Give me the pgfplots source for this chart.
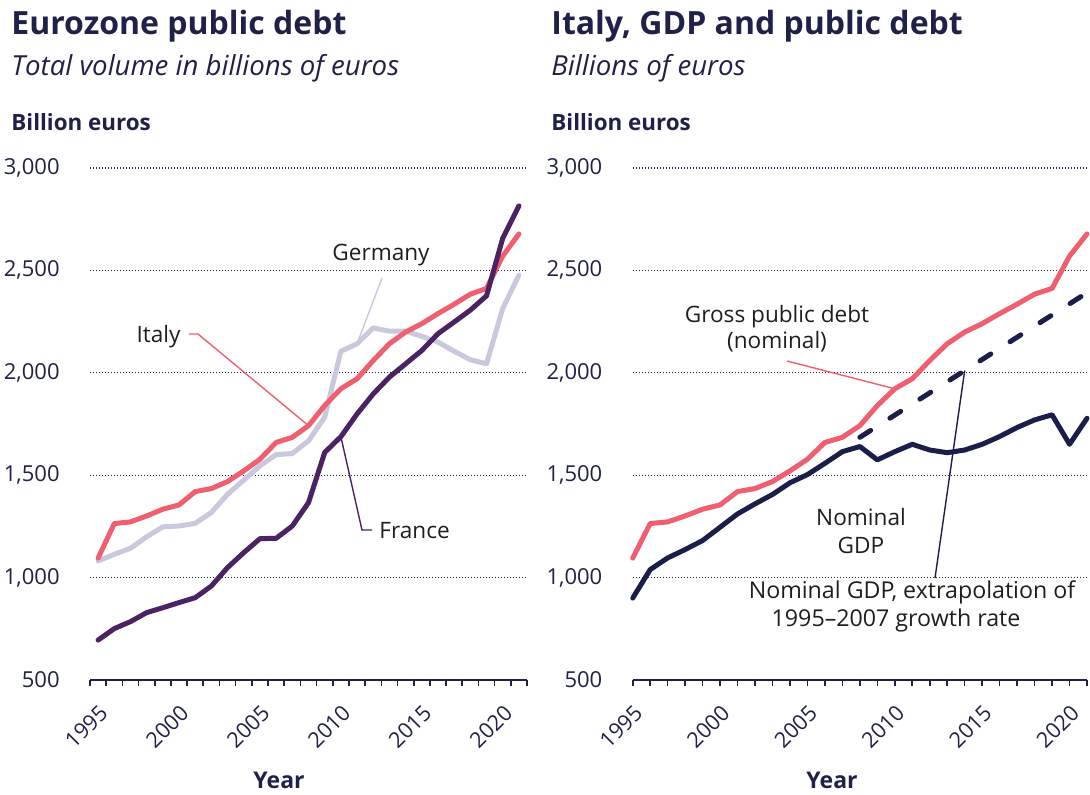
\documentclass[border=0pt]{standalone}
\usepackage{pgfplots}
\usepackage{pgfplotstable}
\pgfplotsset{compat=1.18}
\usepackage{fontspec}
\setmainfont{Open Sans}
\definecolor{navy}{HTML}{1F2148}
\definecolor{italy}{HTML}{EF5F6F}
\definecolor{germany}{HTML}{C9C8DC}
\definecolor{france}{HTML}{4B2363}
\definecolor{gdp}{HTML}{1C1E4A}
\definecolor{anno}{HTML}{1E1E1E}

\pgfplotstableread{
year italy germany france gdp
1995 1095 1081 695 900
1996 1264 1114 751 1039
1997 1272 1143 785 1096
1998 1301 1199 829 1137
1999 1334 1248 853 1181
2000 1355 1252 878 1246
2001 1420 1265 902 1311
2002 1435 1318 959 1360
2003 1469 1407 1049 1406
2004 1521 1476 1122 1463
2005 1578 1546 1190 1503
2006 1660 1600 1192 1558
2007 1685 1606 1252 1615
2008 1742 1668 1366 1640
2009 1840 1783 1611 1575
2010 1922 2105 1688 1615
2011 1971 2142 1799 1651
2012 2060 2219 1897 1623
2013 2142 2203 1979 1610
2014 2199 2203 2044 1623
2015 2240 2178 2109 1651
2016 2289 2150 2191 1689
2017 2335 2105 2248 1733
2018 2384 2064 2306 1770
2019 2412 2044 2376 1795
2020 2570 2314 2657 1651
2021 2678 2477 2815 1778
}\datatable

\pgfplotsset{
  common/.style={
    scale only axis,
    height=256pt,
    ymin=500, ymax=3000,
    ytick={500,1000,...,3000},
    yticklabels={500,{1,000},{1,500},{2,000},{2,500},{3,000}},
    axis x line*=bottom,
    axis y line*=left,
    y axis line style={draw=none},
    x axis line style={navy, line width=1pt},
    ymajorgrids,
    major grid style={navy, line width=0.6pt, dash pattern=on 0.6pt off 0.9pt},
    tick align=outside,
    major tick length=3pt,
    tick style={navy, line width=0.8pt},
    ytick style={draw=none},
    ticklabel style={font=\fontsize{11}{13}\selectfont, text=navy},
    xticklabel style={font=\fontsize{10.8}{13}\selectfont, yshift=-8.5pt, rotate=45, anchor=north east, inner sep=0pt},
    yticklabel style={anchor=east, inner sep=0pt, xshift=-12pt},
    clip=false,
    every axis plot/.append style={line width=2.5pt, line join=round, line cap=round, mark=none},
  }
}

\begin{document}
\begin{tikzpicture}
\path[use as bounding box] (0,0) rectangle (545pt,397pt);

% ---------- left panel ----------
\begin{axis}[common,
  at={(45pt,57pt)}, anchor=south west, width=218.5pt,
  xmin=1994.5, xmax=2021.5,
  xtick={1994.5,1995.5,1996.5,1997.5,1998.5,1999.5,2000.5,2001.5,2002.5,2003.5,2004.5,2005.5,2006.5,2007.5,2008.5,2009.5,2010.5,2011.5,2012.5,2013.5,2014.5,2015.5,2016.5,2017.5,2018.5,2019.5,2020.5,2021.5},
  xticklabels={},
  extra x ticks={1995,2000,2005,2010,2015,2020},
  extra x tick labels={1995,2000,2005,2010,2015,2020},
  extra x tick style={tick style={draw=none}},
]
\addplot[germany] table[x=year, y=germany] {\datatable};
\addplot[italy] table[x=year, y=italy] {\datatable};
\addplot[france] table[x=year, y=france] {\datatable};
\coordinate (itp) at (axis cs:2008,1742);
\coordinate (dep) at (axis cs:2011,2142);
\coordinate (frp) at (axis cs:2010,1688);
\end{axis}

% ---------- right panel ----------
\begin{axis}[common,
  at={(316.35pt,57pt)}, anchor=south west, width=227.15pt,
  xmin=1995, xmax=2021,
  xtick={1995,...,2021},
  xticklabels={1995,,,,,2000,,,,,2005,,,,,2010,,,,,2015,,,,,2020,},
]
\addplot[italy] table[x=year, y=italy] {\datatable};
\addplot[gdp] table[x=year, y=gdp] {\datatable};
\addplot[gdp, dash pattern=on 6.4pt off 11.4pt] coordinates {(2008,1685) (2021,2391)};
\coordinate (gdpp) at (axis cs:2010,1922);
\coordinate (exp) at (axis cs:2014,2011);
\end{axis}

% ---------- titles ----------
\node[anchor=base west, inner sep=0pt, text=navy, font=\fontsize{16}{19}\selectfont\bfseries] at (5.5pt,379.5pt) {Eurozone public debt};
\node[anchor=base west, inner sep=0pt, text=navy, font=\fontsize{13.8}{16}\selectfont\itshape] at (5.5pt,359pt) {Total volume in billions of euros};
\node[anchor=base west, inner sep=0pt, text=navy, font=\fontsize{11.2}{13}\selectfont\bfseries] at (5.5pt,331.5pt) {Billion euros};

\node[anchor=base west, inner sep=0pt, text=navy, font=\fontsize{16}{19}\selectfont\bfseries] at (275.5pt,379.5pt) {Italy, GDP and public debt};
\node[anchor=base west, inner sep=0pt, text=navy, font=\fontsize{13.8}{16}\selectfont\itshape] at (275.5pt,359pt) {Billions of euros};
\node[anchor=base west, inner sep=0pt, text=navy, font=\fontsize{11.2}{13}\selectfont\bfseries] at (275.5pt,331.5pt) {Billion euros};

\node[inner sep=0pt, text=navy, font=\fontsize{11.5}{13}\selectfont\bfseries] at (139.5pt,7pt) {Year};
\node[inner sep=0pt, text=navy, font=\fontsize{11.5}{13}\selectfont\bfseries] at (416pt,7pt) {Year};

% ---------- annotations ----------
\begin{scope}[every node/.style={inner sep=0pt, text=anno, font=\fontsize{11.3}{13}\selectfont}]
\node[anchor=base east] at (90.5pt,226pt) {Italy};
\draw[italy, line width=0.7pt] (94.5pt,230pt) -- (99pt,230pt) -- (itp);
\node[anchor=base west] at (166pt,267pt) {Germany};
\draw[germany, line width=0.7pt] (191pt,258pt) -- (dep);
\node[anchor=base west] at (189.5pt,128pt) {France};
\draw[france, line width=0.7pt] (186pt,132pt) -- (181pt,132pt) -- (frp);

\node[anchor=base] at (388.5pt,236pt) {Gross public debt};
\node[anchor=base] at (388.5pt,223pt) {(nominal)};
\draw[italy, line width=0.7pt] (393.5pt,216.5pt) -- (gdpp);
\node[anchor=base] at (430.5pt,134.5pt) {Nominal};
\node[anchor=base] at (430.5pt,120.5pt) {GDP};
\node[anchor=base, font=\fontsize{11.6}{13}\selectfont] at (456pt,98pt) {Nominal GDP, extrapolation of};
\node[anchor=base, font=\fontsize{11.6}{13}\selectfont] at (448pt,84pt) {1995–2007 growth rate};
\draw[gdp, line width=0.7pt] (467.5pt,108pt) -- (exp);
\end{scope}
\end{tikzpicture}
\end{document}
